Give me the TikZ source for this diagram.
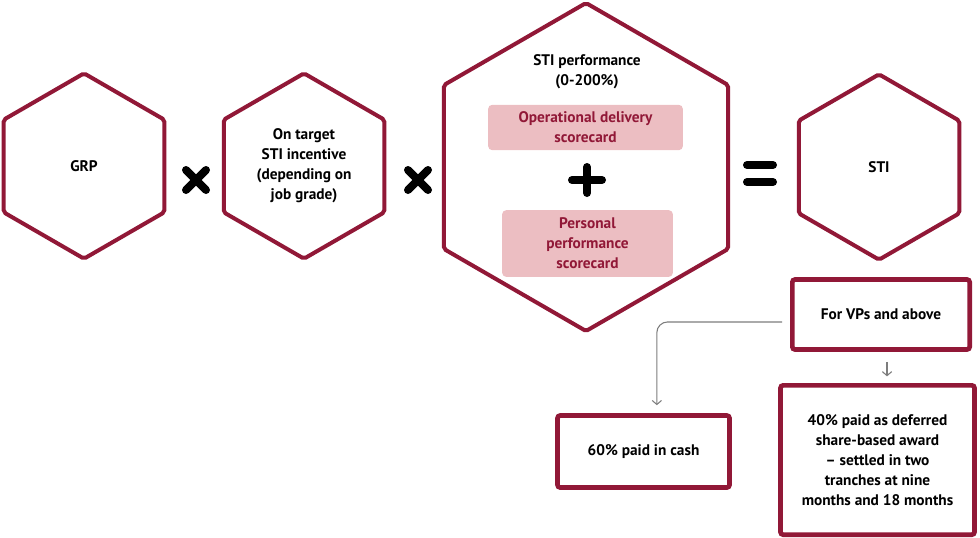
\documentclass[tikz,border=0pt]{standalone}
\usepackage{fontspec}
\setmainfont{PT Sans}
\usetikzlibrary{shapes.geometric,arrows.meta}
\definecolor{stired}{RGB}{145,24,55}
\definecolor{cardpink}{RGB}{236,190,194}
\definecolor{linkgray}{RGB}{125,125,125}
\tikzstyle{hex} = [regular polygon,regular polygon sides=6,shape border rotate=30,draw=stired,line width=3pt,rounded corners=1.5pt,inner sep=0pt,align=center]
\tikzstyle{small hex} = [hex,minimum size=139pt]
\tikzstyle{big hex} = [hex,minimum size=246pt]
\tikzstyle{card} = [fill=cardpink,rounded corners=3pt,text=stired,align=center,inner sep=0pt]
\tikzstyle{box} = [draw=stired,line width=3.5pt,rounded corners=2pt,align=center,inner sep=0pt]
\tikzstyle{op} = [line width=6pt,line cap=round]
\tikzstyle{link} = [draw=linkgray,line width=0.8pt,-{Straight Barb[length=3pt,width=7pt]}]

\begin{document}
\begin{tikzpicture}[x=0.75pt,y=-0.75pt,every node/.style={font=\fontsize{11.5}{15}\selectfont\bfseries}]
    \useasboundingbox (0,0) rectangle (980,537);

    \node[small hex] (grp) at (84,166) {GRP};
    \node[small hex] (otg) at (304,166) {On target\\STI incentive\\(depending on\\job grade)};
    \node[big hex] (perf) at (586,167) {};
    \node[small hex] (sti) at (879,167) {STI};

    \node[align=center] (perftitle) at (587,72) {STI performance\\(0-200\%)};
    \node[card,minimum width=146pt,minimum height=34pt] (odc) at (585.5,127.5) {Operational delivery\\scorecard};
    \node[card,minimum width=128pt,minimum height=50pt] (ppc) at (587.5,243.5) {Personal\\performance\\scorecard};

    % operators
    \draw[op] (186,170) -- (206,190) (186,190) -- (206,170);
    \draw[op] (408,170) -- (428,190) (408,190) -- (428,170);
    \draw[op] (587,167) -- (587,193) (572,180) -- (602,180);
    \draw[op] (747,165) -- (773,165) (747,182) -- (773,182);

    \node[box,minimum width=133pt,minimum height=52.5pt] (vps) at (881,314.5) {For VPs and above};
    \node[box,minimum width=129pt,minimum height=54pt] (cash) at (643.5,451.5) {60\% paid in cash};
    \node[box,minimum width=145.5pt,minimum height=112pt] (def) at (877.5,460) {40\% paid as deferred\\share-based award\\– settled in two\\tranches at nine\\months and 18 months};

    \draw[link,rounded corners=8pt,shorten <=6pt,shorten >=6pt] ([yshift=-5.6pt]vps.west) -| ([xshift=10pt]cash.north);
    \draw[link,shorten <=7.5pt,shorten >=5pt] ([xshift=4.5pt]vps.south) -- ([xshift=4.5pt]vps.south |- def.north);

\end{tikzpicture}
\end{document}
